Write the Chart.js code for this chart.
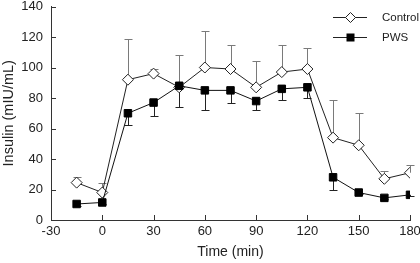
<!DOCTYPE html>
<html>
<head>
<meta charset="utf-8">
<script src="https://cdn.jsdelivr.net/npm/chart.js@4/dist/chart.umd.min.js"></script>
<style>
html,body{margin:0;padding:0;background:#fff;}
#wrap{width:420px;height:263px;position:relative;}
</style>
</head>
<body>
<div id="wrap"><canvas id="c" width="420" height="263"></canvas></div>
<script>
const times = [-15, 0, 15, 30, 45, 60, 75, 90, 105, 120, 135, 150, 165, 180];
const controlValues = [24.5, 18, 92, 96, 87, 100, 99, 87, 97, 99, 54, 49, 27, 31];
const controlSem = [4, 6, 27, 3, 21, 24, 16, 17, 18, 14, 25, 21, 5, 5];
const pwsValues = [10.5, 11.5, 70, 77, 88, 85, 85, 78, 86, 87, 28, 18, 14.5, 16.5];
const pwsSem = [1, 1, 8, 9, 14, 13, 8, 6, 7, 7, 8, 1, 1, 1];
const xTicks = [-30, 0, 30, 60, 90, 120, 150, 180];
const yTicks = [0, 20, 40, 60, 80, 100, 120, 140];
const seriesNames = ['Control', 'PWS'];

const FONT = "'Liberation Sans', Arial, sans-serif";

const errorBars = {
  id: 'errorBars',
  beforeDatasetsDraw(chart) {
    const ctx = chart.ctx, xs = chart.scales.x, ys = chart.scales.y;
    const draw = (vals, sem, dir, color) => {
      ctx.save();
      ctx.strokeStyle = color; ctx.lineWidth = 1;
      for (let i = 0; i < times.length; i++) {
        const x = Math.round(xs.getPixelForValue(times[i])) + 0.5;
        const y0 = ys.getPixelForValue(vals[i]);
        const y1 = Math.round(ys.getPixelForValue(vals[i] + dir * sem[i])) + 0.5;
        ctx.beginPath();
        ctx.moveTo(x, y0); ctx.lineTo(x, y1);
        ctx.moveTo(x - 4, y1); ctx.lineTo(x + 4, y1);
        ctx.stroke();
      }
      ctx.restore();
    };
    draw(controlValues, controlSem, 1, '#7a7a7a');
    draw(pwsValues, pwsSem, -1, '#222');
  },
  afterDraw(chart) {
    const ctx = chart.ctx, xs = chart.scales.x, ys = chart.scales.y;
    const a = chart.chartArea;
    ctx.save();
    ctx.strokeStyle = '#333'; ctx.lineWidth = 1;
    xs.ticks.forEach(t => {
      const x = Math.round(xs.getPixelForValue(t.value)) + 0.5;
      ctx.beginPath(); ctx.moveTo(x, a.bottom); ctx.lineTo(x, a.bottom - 5); ctx.stroke();
    });
    ys.ticks.forEach(t => {
      const y = Math.round(ys.getPixelForValue(t.value)) + 0.5;
      ctx.beginPath(); ctx.moveTo(a.left, y); ctx.lineTo(a.left + 5, y); ctx.stroke();
    });
    const items = [
      {name: seriesNames[0], y: 17, style: 'diamond'},
      {name: seriesNames[1], y: 37, style: 'square'}
    ];
    ctx.font = '11.5px ' + FONT;
    ctx.textBaseline = 'middle';
    items.forEach(it => {
      ctx.strokeStyle = '#222';
      ctx.beginPath(); ctx.moveTo(333, it.y + 0.5); ctx.lineTo(367, it.y + 0.5); ctx.stroke();
      const cx = 350.5, cy = it.y + 0.5;
      if (it.style === 'diamond') {
        ctx.beginPath();
        ctx.moveTo(cx, cy - 5); ctx.lineTo(cx + 5, cy); ctx.lineTo(cx, cy + 5); ctx.lineTo(cx - 5, cy); ctx.closePath();
        ctx.fillStyle = '#fff'; ctx.fill(); ctx.stroke();
      } else {
        ctx.fillStyle = '#000';
        ctx.fillRect(cx - 4, cy - 4, 8, 8);
      }
      ctx.fillStyle = '#222';
      ctx.fillText(it.name, 382, it.y + 1);
    });
    ctx.restore();
  }
};

new Chart(document.getElementById('c'), {
  type: 'line',
  data: {
    datasets: [
      {
        label: seriesNames[0],
        data: times.map((t, i) => ({x: t, y: controlValues[i]})),
        borderColor: '#222', borderWidth: 1,
        pointStyle: 'rectRot', pointRadius: 5.5, pointBorderWidth: 1,
        pointBackgroundColor: '#fff', pointBorderColor: '#222',
        order: 2, tension: 0
      },
      {
        label: seriesNames[1],
        data: times.map((t, i) => ({x: t, y: pwsValues[i]})),
        borderColor: '#111', borderWidth: 1,
        pointStyle: 'rect', pointRadius: 5.3, pointBorderWidth: 1,
        pointBackgroundColor: '#000', pointBorderColor: '#000',
        order: 1, tension: 0
      }
    ]
  },
  options: {
    responsive: false,
    animation: false,
    devicePixelRatio: 1,
    layout: {padding: {left: 0, right: 10, top: 5, bottom: 0}},
    plugins: {legend: {display: false}, tooltip: {enabled: false}},
    scales: {
      x: {
        type: 'linear', min: -30, max: 180,
        afterBuildTicks: s => { s.ticks = xTicks.map(v => ({value: v})); },
        grid: {display: false, drawTicks: false},
        border: {display: true, color: '#333', width: 1},
        ticks: {padding: 4, color: '#222', font: {family: FONT, size: 13}, maxRotation: 0},
        title: {display: true, text: 'Time (min)', color: '#222', font: {family: FONT, size: 14}, padding: {top: 2, bottom: 2}},
        afterFit: s => { s.height = 43; s.paddingLeft = 0; s.paddingRight = 0; }
      },
      y: {
        min: 0, max: 140,
        afterBuildTicks: s => { s.ticks = yTicks.map(v => ({value: v})); },
        grid: {display: false, drawTicks: false},
        border: {display: true, color: '#333', width: 1},
        ticks: {padding: 8, color: '#222', font: {family: FONT, size: 13}},
        title: {display: true, text: 'Insulin (mIU/mL)', color: '#222', font: {family: FONT, size: 14.5}, padding: {top: 0, bottom: 0}},
        afterFit: s => { s.width = 51; s.paddingTop = 0; s.paddingBottom = 0; }
      }
    }
  },
  plugins: [errorBars]
});
</script>
</body>
</html>
